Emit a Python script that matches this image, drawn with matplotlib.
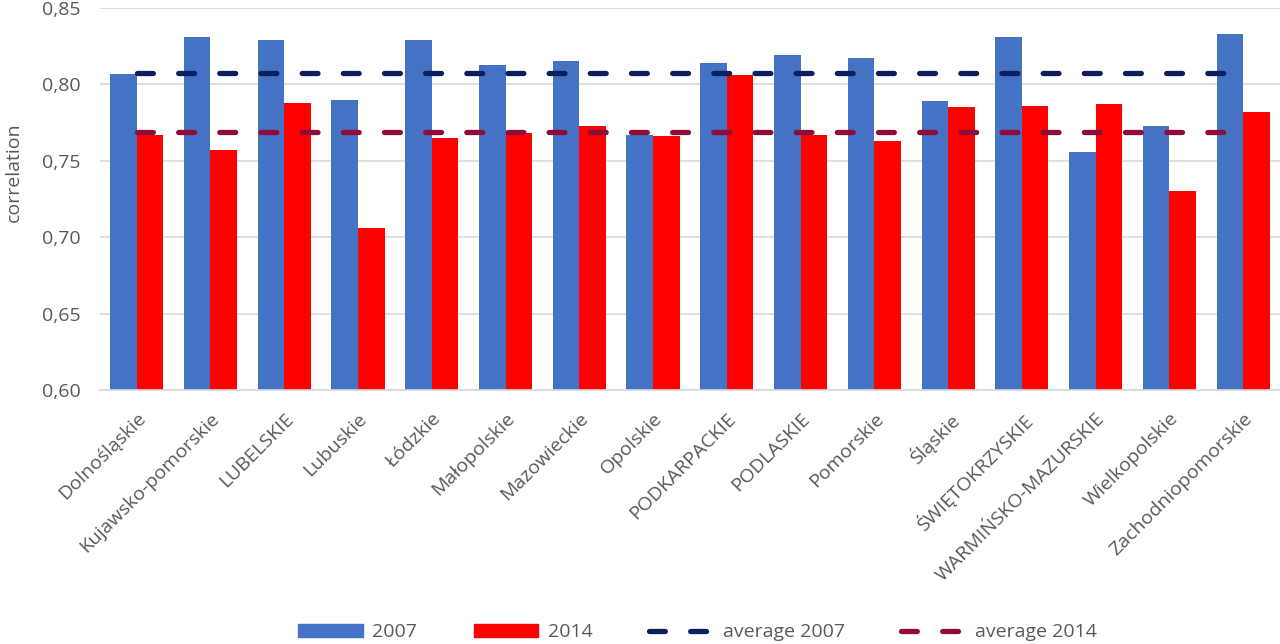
import matplotlib
matplotlib.use("Agg")
import matplotlib.pyplot as plt
import numpy as np
from matplotlib.patches import Patch
from matplotlib.lines import Line2D
from matplotlib.ticker import FuncFormatter

categories = ["Dolnośląskie", "Kujawsko-pomorskie", "LUBELSKIE", "Lubuskie", "Łódzkie",
              "Małopolskie", "Mazowieckie", "Opolskie", "PODKARPACKIE", "PODLASKIE",
              "Pomorskie", "Śląskie", "ŚWIĘTOKRZYSKIE", "WARMIŃSKO-MAZURSKIE",
              "Wielkopolskie", "Zachodniopomorskie"]
values_2007 = [0.807, 0.831, 0.829, 0.790, 0.829, 0.813, 0.815, 0.767, 0.814, 0.819,
               0.817, 0.789, 0.831, 0.756, 0.773, 0.833]
values_2014 = [0.767, 0.757, 0.788, 0.706, 0.765, 0.768, 0.773, 0.766, 0.806, 0.767,
               0.763, 0.785, 0.786, 0.787, 0.730, 0.782]
average_2007 = 0.8076
average_2014 = 0.7686
yticks = [0.60, 0.65, 0.70, 0.75, 0.80, 0.85]

plt.rcParams['font.family'] = ['Open Sans', 'DejaVu Sans']
text_color = '#595959'

fig = plt.figure(figsize=(12.8, 6.44), dpi=100)
ax = fig.add_axes([0.078, 0.3944, 0.922, 0.5932])

x = np.arange(len(categories))
w = 0.36
c_blue = '#4472C4'
c_red = '#FF0000'
c_avg07 = '#0B1F5C'
c_avg14 = '#8E0B3A'

ax.bar(x - w/2, values_2007, width=w, color=c_blue, zorder=2)
ax.bar(x + w/2, values_2014, width=w, color=c_red, zorder=2)

dash = (3.0, 4.8)
l1, = ax.plot(x, [average_2007]*len(x), color=c_avg07, lw=3.8, zorder=3,
              dash_capstyle='round')
l1.set_dashes(dash)
l2, = ax.plot(x, [average_2014]*len(x), color=c_avg14, lw=3.8, zorder=3,
              dash_capstyle='round')
l2.set_dashes(dash)

ax.set_xlim(-0.5, 15.5)
ax.set_ylim(0.60, 0.85)
ax.set_yticks(yticks)
ax.yaxis.set_major_formatter(FuncFormatter(lambda v, p: f"{v:.2f}".replace('.', ',')))
ax.grid(axis='y', color='#D9D9D9', lw=1.2, zorder=0)
ax.set_axisbelow(True)
for s in ['top', 'right', 'left']:
    ax.spines[s].set_visible(False)
ax.spines['bottom'].set_color('#D9D9D9')
ax.spines['bottom'].set_linewidth(1.2)
ax.tick_params(axis='both', length=0, labelsize=14, colors=text_color)
ax.tick_params(axis='y', pad=14)
ax.tick_params(axis='x', pad=14)
ax.set_xticks(x)
ax.set_xticklabels(categories, rotation=45, ha='right', rotation_mode='anchor')
ax.set_ylabel('correlation', fontsize=14, color=text_color)
ax.yaxis.set_label_coords(-0.065, 0.571)

handles = [Patch(color=c_blue), Patch(color=c_red),
           Line2D([0], [0], color=c_avg07, lw=3.8, dashes=dash, dash_capstyle='round'),
           Line2D([0], [0], color=c_avg14, lw=3.8, dashes=dash, dash_capstyle='round')]
labels = ['2007', '2014', 'average 2007', 'average 2014']
leg = fig.legend(handles, labels, loc='center', bbox_to_anchor=(0.545, 0.018), ncol=4,
                 frameon=False, fontsize=14, handlelength=3.3, handleheight=0.6,
                 columnspacing=2.9, handletextpad=0.5)
for t in leg.get_texts():
    t.set_color(text_color)

fig.savefig('out.png', dpi=100)
